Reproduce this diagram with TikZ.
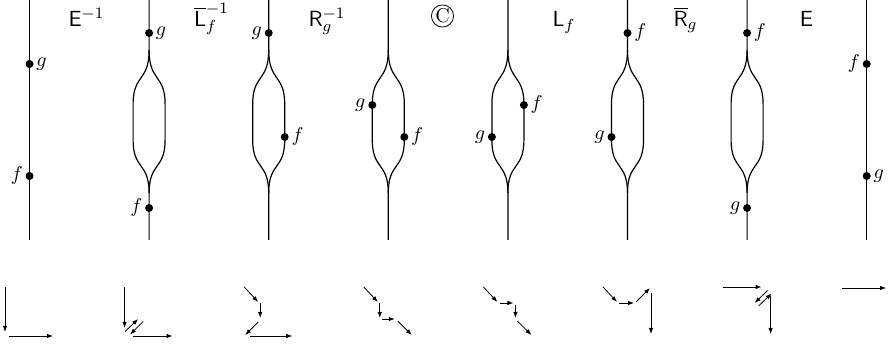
\documentclass[tikz,border=0pt]{standalone}
\usepackage{amsmath,amssymb}
\usepackage{tikz}
\usetikzlibrary{arrows.meta}
\newcommand{\opE}{\mathsf{E}}
\newcommand{\opL}{\mathsf{L}}
\newcommand{\opR}{\mathsf{R}}

\begin{document}
\begin{tikzpicture}[x=0.5pt, y=-0.5pt,
    strand/.style={line width=0.6pt},
    dot/.style={circle, fill, inner sep=0pt, minimum size=4pt},
    lbl/.style={font=\fontsize{11}{13}\selectfont, anchor=base},
    arr/.style={-{Latex[length=3pt,width=2.2pt]}, line width=0.4pt},
    every label/.style={inner sep=1pt}
  ]
  \useasboundingbox (0,0) rectangle (889,346);

  % strands
  \draw[strand] (29.5,0) -- (29.5,240);
  \draw[strand] (866.7,0) -- (866.7,240);
  \foreach \x in {149.1,268.7,388.3,507.9,627.5,747.1} {
    \draw[strand] (\x,0) -- (\x,50) .. controls (\x,82) and (\x-16,74) .. (\x-16,104)
      -- (\x-16,140) .. controls (\x-16,170) and (\x,162) .. (\x,193) -- (\x,240);
    \draw[strand] (\x,50) .. controls (\x,82) and (\x+16,74) .. (\x+16,104)
      -- (\x+16,140) .. controls (\x+16,170) and (\x,162) .. (\x,193);
  }

  % beads
  \node[dot, label=right:$g$] (g1) at (29.5,64) {};
  \node[dot, label=left:$f$] (f1) at (29.5,176) {};
  \node[dot, label=right:$g$] (g2) at (149.1,33) {};
  \node[dot, label=left:$f$] (f2) at (149.1,208) {};
  \node[dot, label=left:$g$] (g3) at (268.7,33) {};
  \node[dot, label=right:$f$] (f3) at (284.7,137) {};
  \node[dot, label=left:$g$] (g4) at (372.3,105) {};
  \node[dot, label=right:$f$] (f4) at (404.3,137) {};
  \node[dot, label=right:$f$] (f5) at (523.9,105) {};
  \node[dot, label=left:$g$] (g5) at (491.9,137) {};
  \node[dot, label=right:$f$] (f6) at (627.5,33) {};
  \node[dot, label=left:$g$] (g6) at (611.5,137) {};
  \node[dot, label=right:$f$] (f7) at (747.1,33) {};
  \node[dot, label=left:$g$] (g7) at (747.1,208) {};
  \node[dot, label=left:$f$] (f8) at (866.7,64) {};
  \node[dot, label=right:$g$] (g8) at (866.7,176) {};

  % move names
  \node[lbl] (m1) at (86.5,26.5) {$\opE^{-1}$};
  \node[lbl] (m2) at (211.5,26.5) {$\overline{\opL}_f^{-1}$};
  \node[lbl] (m3) at (327,26.5) {$\opR_g^{-1}$};
  \node[circle, draw, line width=0.4pt, inner sep=0.3pt] (m4) at (442.5,16) {C};
  \node[lbl] (m5) at (564,26.5) {$\opL_f$};
  \node[lbl] (m6) at (685.5,26.5) {$\overline{\opR}_g$};
  \node[lbl] (m7) at (806.5,26.5) {$\opE$};

  % lattice paths
  \begin{scope}[shift={(5,287)}]
    \draw[arr] (0,0) -- (0,45);
    \draw[arr] (4,49) -- (48,49);
  \end{scope}
  \begin{scope}[shift={(124.6,287)}]
    \draw[arr] (0,0) -- (0,41);
    \draw[arr] (0.5,44.5) -- (13.5,32);
    \draw[arr] (18.5,34.5) -- (5.5,47.5);
    \draw[arr] (8,49) -- (48,49);
  \end{scope}
  \begin{scope}[shift={(244.2,287)}]
    \draw[arr] (0,0) -- (14,15);
    \draw[arr] (16,16) -- (16,31);
    \draw[arr] (14,35) -- (1,48);
    \draw[arr] (6,49) -- (48,49);
  \end{scope}
  \begin{scope}[shift={(363.8,287)}]
    \draw[arr] (0,0) -- (14,15);
    \draw[arr] (16,16) -- (16,31);
    \draw[arr] (18,32) -- (31,32);
    \draw[arr] (34,34) -- (48,48);
  \end{scope}
  \begin{scope}[shift={(483.4,287)}]
    \draw[arr] (0,0) -- (14,15);
    \draw[arr] (17,16) -- (30,16);
    \draw[arr] (32,18) -- (32,31);
    \draw[arr] (34,34) -- (48,48);
  \end{scope}
  \begin{scope}[shift={(603,287)}]
    \draw[arr] (0,0) -- (14,15);
    \draw[arr] (16,16) -- (31,16);
    \draw[arr] (33,15) -- (47,1);
    \draw[arr] (48,6) -- (48,47);
  \end{scope}
  \begin{scope}[shift={(722.6,287)}]
    \draw[arr] (0,0) -- (39,0);
    \draw[arr] (45,3.5) -- (32,16);
    \draw[arr] (36,19) -- (49,6.5);
    \draw[arr] (48,9) -- (48,47);
  \end{scope}
  \begin{scope}[shift={(842.2,287)}]
    \draw[arr] (0,1) -- (44,1);
  \end{scope}
\end{tikzpicture}
\end{document}
